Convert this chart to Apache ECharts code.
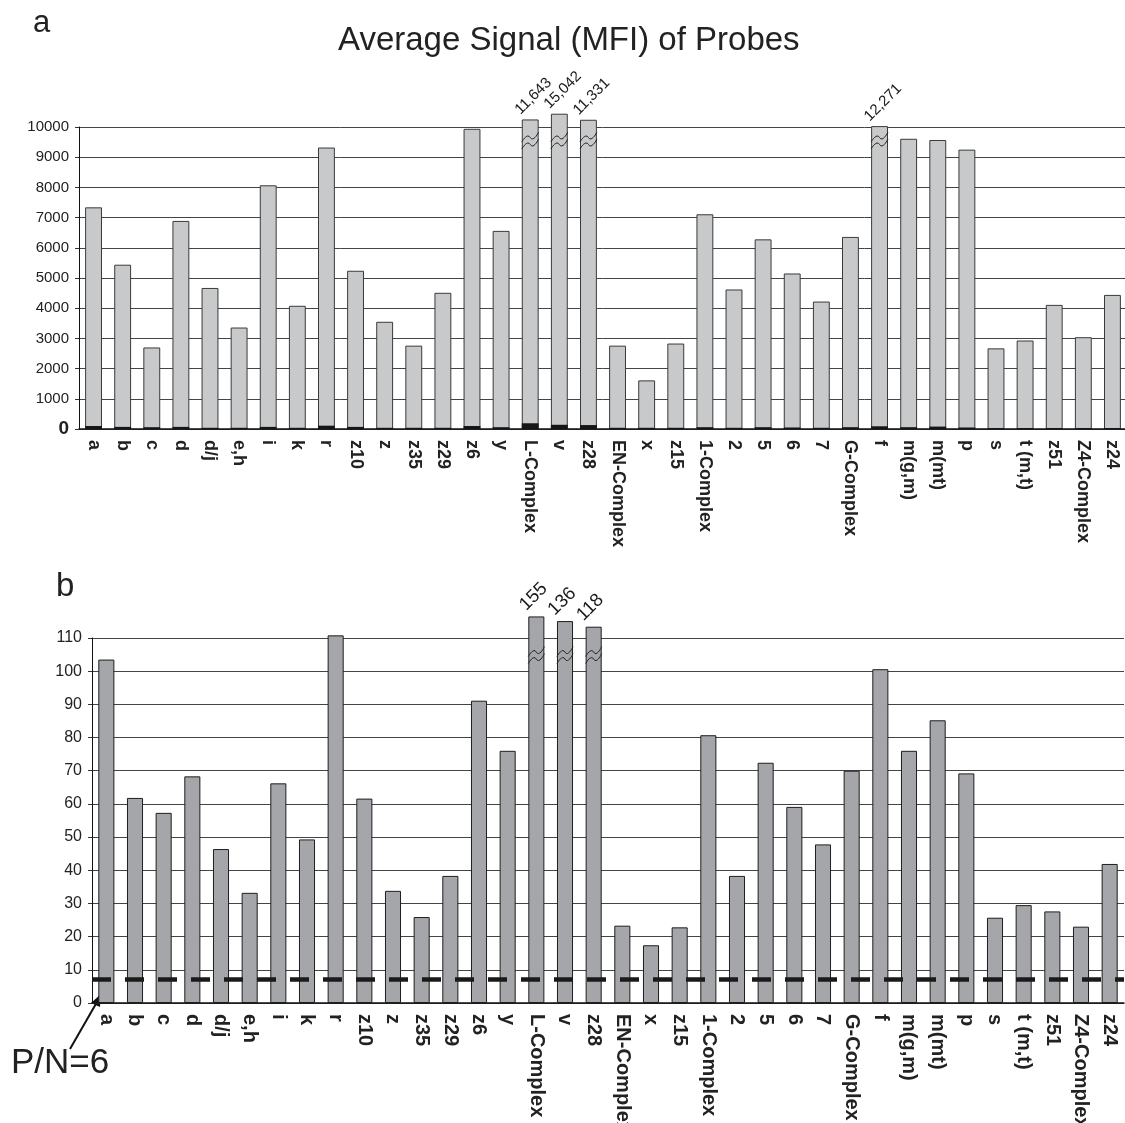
<!DOCTYPE html>
<html>
<head>
<meta charset="utf-8">
<script src="https://cdn.jsdelivr.net/npm/echarts@6/dist/echarts.min.js"></script>
<style>
html,body{margin:0;padding:0;background:#fff;}
#chart{width:1125px;height:1123px;}
</style>
</head>
<body>
<div id="chart"></div>
<script>
// ---------- DATA ----------
const categories = ['a','b','c','d','d/j','e,h','i','k','r','z10','z','z35','z29','z6','y','L-Complex','v','z28','EN-Complex','x','z15','1-Complex','2','5','6','7','G-Complex','f','m(g,m)','m(mt)','p','s','t (m,t)','z51','Z4-Complex','z24'];

// Panel a: average signal (MFI) as drawn (broken bars shown at truncated height)
const signalMFI = [7340,5440,2700,6890,4670,3360,8070,4080,9320,5240,3550,2760,4510,9940,6560,10250,10440,10240,2760,1610,2830,7110,4620,6280,5150,4220,6360,10030,9610,9570,9250,2670,2930,4110,3040,4440];
// Panel a: background (dark bottom portion)
const backgroundMFI = [100,70,60,70,40,40,70,40,110,70,40,40,40,100,60,190,140,130,40,40,40,60,40,60,50,40,60,90,60,80,50,30,30,30,30,30];
// Panel a: broken bars and their true values
const brokenA = ['L-Complex','v','z28','f'];
const brokenAValues = ['11,643','15,042','11,331','12,271'];

// Panel b: P/N ratio as drawn
const ratioPN = [103.5,61.8,57.3,68.3,46.4,33.2,66.2,49.3,110.8,61.6,33.8,25.9,38.3,91.1,76.0,116.5,115.1,113.4,23.3,17.4,22.8,80.7,38.3,72.4,59.1,47.8,70.0,100.6,76.0,85.2,69.2,25.7,29.5,27.6,23.0,41.9];
const brokenB = ['L-Complex','v','z28'];
const brokenBValues = ['155','136','118'];
const cutoffPN = 7.2;

const yTicksA = {min:0, max:10000, interval:1000};
const yTicksB = {min:0, max:110, interval:10};

// ---------- CHART ----------
const FONT = '"Liberation Sans", Arial, sans-serif';
const chart = echarts.init(document.getElementById('chart'), null, {renderer:'canvas'});

function breakData(list, values, breakVal){
  return list.map(c => { const i = categories.indexOf(c); return [i, values[i], breakVal]; });
}
function breakRenderer(labels, widthFrac, fontSize, fontWeight){
  return function(params, api){
    const i = api.value(0);
    const top = api.coord([i, api.value(1)]);
    const br = api.coord([i, api.value(2)]);
    const w = api.size([1,0])[0]*widthFrac;
    const zig = dy => [[br[0]-w/2, br[1]+5+dy],[br[0]-w*0.15, br[1]-1+dy],[br[0]+w*0.15, br[1]+2+dy],[br[0]+w/2, br[1]-5+dy]];
    return {type:'group', children:[
      {type:'polyline', shape:{points:zig(-3), smooth:0.5}, style:{stroke:'#222', lineWidth:1, fill:null}},
      {type:'polyline', shape:{points:zig(4), smooth:0.5}, style:{stroke:'#222', lineWidth:1, fill:null}},
      {type:'text', x: top[0]-w/2+1, y: top[1]-2, rotation: Math.PI/4,
        style:{text: labels[params.dataIndex], fontSize: fontSize, fontWeight: fontWeight, fontFamily: FONT, fill:'#1a1a1a', align:'left', verticalAlign:'bottom'}}
    ]};
  };
}

const option = {
  animation:false,
  backgroundColor:'#fff',
  title:{text:'Average Signal (MFI) of Probes', left:333, top:19, textStyle:{fontFamily:FONT, fontSize:33, fontWeight:'normal', color:'#222'}},
  grid:[
    {left:79, right:-2, top:127, bottom:694, outerBoundsMode:'none', containLabel:false},
    {left:92, right:1, top:638, bottom:120, outerBoundsMode:'none', containLabel:false}
  ],
  xAxis:[
    {type:'category', gridIndex:0, data:categories,
      axisLine:{lineStyle:{color:'#111', width:1.5}},
      axisTick:{length:5, lineStyle:{color:'#333'}},
      axisLabel:{rotate:-90, margin:11, interval:0, fontFamily:FONT, fontSize:18, fontWeight:'bold', color:'#222'}},
    {type:'category', gridIndex:1, data:categories,
      axisLine:{lineStyle:{color:'#111', width:1.5}},
      axisTick:{length:5, lineStyle:{color:'#333'}},
      axisLabel:{rotate:-90, margin:11, interval:0, fontFamily:FONT, fontSize:20, fontWeight:'bold', color:'#222'}}
  ],
  yAxis:[
    {type:'value', gridIndex:0, min:yTicksA.min, max:yTicksA.max, interval:yTicksA.interval,
      axisLine:{show:true, lineStyle:{color:'#111'}},
      axisTick:{show:true, length:4, lineStyle:{color:'#333'}},
      splitLine:{lineStyle:{color:'#444', width:1}},
      axisLabel:{margin:10, fontFamily:FONT, fontSize:15, color:'#222',
        formatter: v => v === 0 ? '{z|0}' : String(v),
        rich:{z:{fontFamily:FONT, fontSize:19, fontWeight:'bold', color:'#222'}}}},
    {type:'value', gridIndex:1, min:yTicksB.min, max:yTicksB.max, interval:yTicksB.interval,
      axisLine:{show:true, lineStyle:{color:'#111'}},
      axisTick:{show:true, length:4, lineStyle:{color:'#333'}},
      splitLine:{lineStyle:{color:'#444', width:1}},
      axisLabel:{margin:10, fontFamily:FONT, fontSize:16, color:'#222'}}
  ],
  series:[
    {type:'bar', xAxisIndex:0, yAxisIndex:0, data:signalMFI, clip:false, barCategoryGap:'42%', barGap:'-100%',
      itemStyle:{color:'#c8c9cb', borderColor:'#3a3a3a', borderWidth:1}, z:2},
    {type:'bar', xAxisIndex:0, yAxisIndex:0, data:backgroundMFI, clip:false, barCategoryGap:'42%', barGap:'-100%',
      itemStyle:{color:'#161616'}, z:3},
    {type:'custom', xAxisIndex:0, yAxisIndex:0, clip:false, z:5,
      data: breakData(brokenA, signalMFI, 9570),
      encode:{x:0, y:1},
      renderItem: breakRenderer(brokenAValues, 0.58, 15, 'normal')},
    {type:'bar', xAxisIndex:1, yAxisIndex:1, data:ratioPN, clip:false, barCategoryGap:'44%',
      itemStyle:{color:'#a5a6aa', borderColor:'#1e1e1e', borderWidth:1}, z:2,
      markLine:{silent:true, symbol:'none', label:{show:false},
        lineStyle:{color:'#1a1a1a', width:4.5, type:[19,14]},
        data:[{yAxis:cutoffPN}]}},
    {type:'custom', xAxisIndex:1, yAxisIndex:1, clip:false, z:5,
      data: breakData(brokenB, ratioPN, 105),
      encode:{x:0, y:1},
      renderItem: breakRenderer(brokenBValues, 0.56, 18.5, 'normal')}
  ],
  graphic:[
    {type:'text', left:33, top:8, style:{text:'a', fontFamily:FONT, fontSize:31, fill:'#222'}},
    {type:'text', left:56, top:570, style:{text:'b', fontFamily:FONT, fontSize:33, fill:'#222'}},
    {type:'text', left:11, top:1046, style:{text:'P/N=6', fontFamily:FONT, fontSize:35, fill:'#222'}},
    {type:'line', shape:{x1:70, y1:1049, x2:97, y2:1002}, style:{stroke:'#111', lineWidth:2}},
    {type:'polygon', shape:{points:[[101,994],[91,1003],[100,1007]]}, style:{fill:'#111'}}
  ]
};
chart.setOption(option);
</script>
</body>
</html>
